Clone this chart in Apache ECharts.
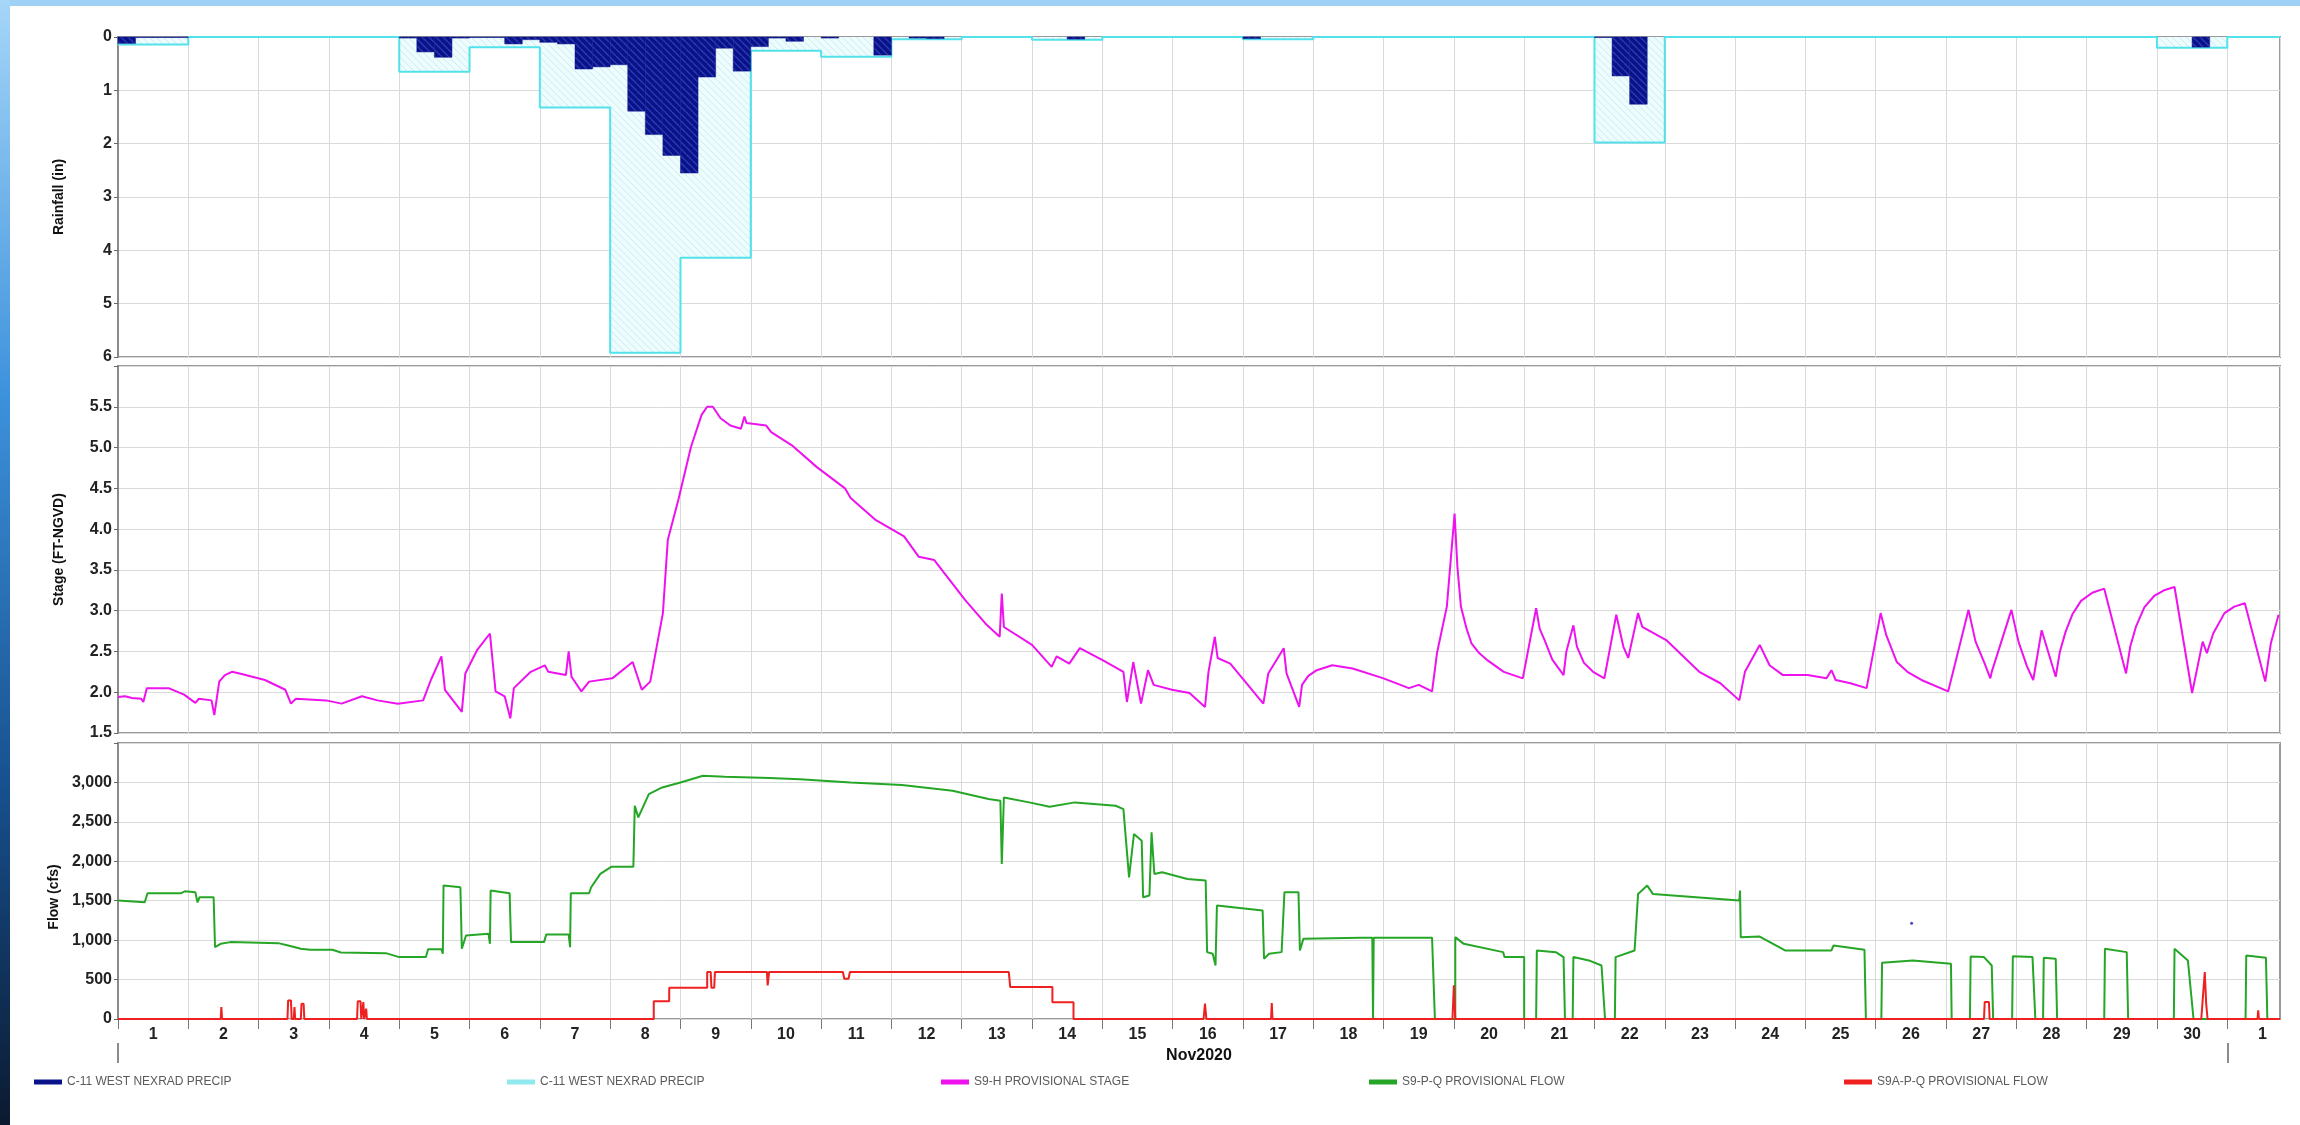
<!DOCTYPE html>
<html><head><meta charset="utf-8">
<script src="https://cdn.jsdelivr.net/npm/echarts@6/dist/echarts.min.js"></script>
<style>html,body{margin:0;padding:0;background:#fff}#c{width:2300px;height:1125px}</style>
</head><body><div id="c"></div>
<script>
// ---------- DATA (x values are days since Nov 1, 2020 00:00) ----------
const dayLabels = ['1','2','3','4','5','6','7','8','9','10','11','12','13','14','15','16','17','18','19','20','21','22','23','24','25','26','27','28','29','30','1'];
const rainTicks = [0,1,2,3,4,5,6];
const stageTicks = [1.5,2.0,2.5,3.0,3.5,4.0,4.5,5.0,5.5];
const flowTicks = [0,500,1000,1500,2000,2500,3000];

// daily NEXRAD totals (in), Nov 1 .. Dec 1
const dailyRain = [0.14,0,0,0,0.65,0.19,1.32,5.92,4.14,0.26,0.37,0.04,0,0.05,0,0,0.04,0,0,0,0,1.98,0,0,0,0,0,0,0,0.2,0];

// 6-hour NEXRAD totals (in): bin start (day) and value
const BIN = 0.25;
const rain6hStart = [0,0.25,0.5,0.75, 4.0,4.25,4.5,4.75, 5.0,5.25,5.5,5.75, 6.0,6.25,6.5,6.75, 7.0,7.25,7.5,7.75, 8.0,8.25,8.5,8.75, 9.0,9.25,9.5, 10.0,10.75, 11.25,11.5, 13.5, 16.0, 21.0,21.25,21.5, 29.5];
const rain6hValue = [0.12,0.01,0.01,0.01, 0.02,0.28,0.38,0.02, 0.01,0.01,0.13,0.05, 0.10,0.13,0.60,0.56, 0.52,1.39,1.83,2.22, 2.55,0.75,0.21,0.64, 0.18,0.02,0.08, 0.02,0.34, 0.02,0.03, 0.04, 0.03, 0.01,0.73,1.26, 0.19];

// S9-H provisional stage (ft NGVD)
const stage = [[0,1.94],[0.1,1.95],[0.2,1.93],[0.33,1.92],[0.36,1.88],[0.41,2.05],[0.72,2.05],[0.94,1.97],[1.1,1.87],[1.15,1.92],[1.33,1.9],[1.37,1.72],[1.44,2.13],[1.52,2.21],[1.62,2.25],[1.73,2.23],[2.09,2.15],[2.38,2.03],[2.46,1.86],[2.53,1.92],[2.96,1.9],[3.18,1.86],[3.47,1.95],[3.69,1.9],[3.98,1.86],[4.34,1.9],[4.45,2.15],[4.6,2.44],[4.65,2.03],[4.89,1.76],[4.94,2.23],[5.11,2.52],[5.29,2.72],[5.37,2.01],[5.5,1.95],[5.58,1.68],[5.63,2.05],[5.87,2.25],[6.07,2.33],[6.12,2.25],[6.37,2.21],[6.41,2.5],[6.45,2.19],[6.59,2.01],[6.7,2.13],[7.03,2.17],[7.32,2.37],[7.45,2.03],[7.57,2.13],[7.75,2.97],[7.82,3.87],[7.97,4.36],[8.15,5.01],[8.3,5.4],[8.38,5.5],[8.46,5.5],[8.57,5.36],[8.71,5.27],[8.86,5.23],[8.91,5.38],[8.94,5.3],[9.22,5.27],[9.29,5.19],[9.58,5.03],[9.94,4.76],[10.34,4.5],[10.42,4.38],[10.78,4.11],[11.18,3.91],[11.39,3.66],[11.61,3.62],[12.05,3.13],[12.34,2.84],[12.54,2.68],[12.57,3.21],[12.6,2.8],[13.0,2.58],[13.28,2.31],[13.35,2.44],[13.53,2.35],[13.68,2.54],[14.01,2.39],[14.3,2.25],[14.35,1.88],[14.44,2.37],[14.55,1.86],[14.65,2.27],[14.73,2.09],[14.99,2.03],[15.24,1.99],[15.46,1.82],[15.51,2.25],[15.6,2.68],[15.64,2.42],[15.82,2.35],[16.29,1.86],[16.36,2.23],[16.58,2.54],[16.62,2.23],[16.8,1.82],[16.84,2.09],[16.93,2.2],[17.05,2.27],[17.27,2.33],[17.56,2.29],[18.0,2.17],[18.36,2.05],[18.5,2.09],[18.69,2.01],[18.76,2.48],[18.9,3.05],[19.01,4.19],[19.05,3.54],[19.1,3.05],[19.18,2.78],[19.25,2.6],[19.36,2.48],[19.48,2.39],[19.71,2.25],[19.98,2.17],[20.17,3.03],[20.22,2.78],[20.29,2.64],[20.4,2.4],[20.56,2.21],[20.6,2.5],[20.7,2.82],[20.75,2.56],[20.85,2.36],[20.98,2.25],[21.14,2.17],[21.31,2.95],[21.41,2.56],[21.48,2.42],[21.62,2.97],[21.68,2.8],[22.02,2.64],[22.49,2.25],[22.79,2.11],[23.06,1.9],[23.14,2.25],[23.35,2.58],[23.49,2.33],[23.68,2.21],[24.03,2.21],[24.3,2.17],[24.37,2.27],[24.43,2.15],[24.64,2.11],[24.87,2.05],[25.07,2.97],[25.15,2.7],[25.3,2.37],[25.45,2.25],[25.65,2.15],[26.03,2.01],[26.32,3.01],[26.42,2.62],[26.55,2.35],[26.63,2.17],[26.65,2.25],[26.93,3.01],[27.03,2.62],[27.15,2.32],[27.24,2.15],[27.36,2.76],[27.56,2.19],[27.62,2.5],[27.7,2.74],[27.8,2.96],[27.92,3.12],[28.08,3.22],[28.25,3.27],[28.56,2.23],[28.62,2.56],[28.7,2.8],[28.82,3.04],[28.96,3.18],[29.1,3.25],[29.25,3.29],[29.5,1.99],[29.65,2.62],[29.71,2.48],[29.8,2.72],[29.96,2.97],[30.1,3.05],[30.25,3.09],[30.54,2.13],[30.62,2.6],[30.73,2.95]];

// S9-P-Q provisional flow (cfs)
const flowS9 = [[0,1502],[0.38,1481],[0.42,1595],[0.9,1595],[0.95,1620],[1.1,1607],[1.13,1480],[1.16,1544],[1.36,1544],[1.38,911],[1.46,954],[1.6,975],[2.28,962],[2.42,932],[2.6,890],[2.73,878],[3.05,878],[3.17,844],[3.81,835],[4.0,785],[4.38,785],[4.41,886],[4.6,886],[4.62,827],[4.63,1692],[4.87,1671],[4.89,890],[4.95,1059],[5.27,1080],[5.29,954],[5.3,1629],[5.57,1595],[5.59,975],[6.06,975],[6.09,1072],[6.41,1072],[6.43,911],[6.44,1595],[6.7,1595],[6.73,1671],[6.86,1840],[7.02,1932],[7.33,1932],[7.35,2704],[7.4,2557],[7.55,2852],[7.74,2936],[8.0,3000],[8.32,3084],[8.63,3071],[9.27,3055],[9.7,3040],[10.42,3000],[11.15,2966],[11.87,2894],[12.38,2789],[12.55,2768],[12.57,1966],[12.6,2810],[12.96,2747],[13.25,2692],[13.61,2747],[14.19,2704],[14.3,2662],[14.38,1797],[14.45,2346],[14.56,2261],[14.58,1544],[14.67,1565],[14.7,2367],[14.74,1840],[14.85,1861],[15.21,1776],[15.47,1755],[15.49,848],[15.57,827],[15.61,679],[15.63,1439],[16.28,1375],[16.3,764],[16.37,827],[16.55,848],[16.59,1607],[16.79,1607],[16.81,869],[16.86,1017],[17.68,1029],[17.84,1029],[17.85,0],[17.86,1029],[18.69,1029],[18.73,0],[19.02,0],[19.02,1038],[19.14,953],[19.7,848],[19.72,785],[20.0,785],[20.0,0],[20.17,0],[20.18,869],[20.45,848],[20.56,785],[20.58,0],[20.69,0],[20.7,785],[20.92,743],[21.1,679],[21.15,0],[21.29,0],[21.3,785],[21.57,869],[21.62,1586],[21.75,1692],[21.83,1586],[23.06,1502],[23.07,1629],[23.08,1038],[23.35,1046],[23.71,869],[24.37,869],[24.4,932],[24.84,878],[24.86,0],[25.08,0],[25.09,713],[25.53,743],[26.07,700],[26.08,0],[26.34,0],[26.35,793],[26.54,785],[26.65,679],[26.67,0],[26.94,0],[26.95,797],[27.23,785],[27.27,0],[27.38,0],[27.39,776],[27.56,764],[27.58,0],[28.25,0],[28.26,890],[28.57,848],[28.59,0],[29.24,0],[29.25,890],[29.44,743],[29.52,0],[30.26,0],[30.27,806],[30.55,776],[30.57,0],[30.75,0]];

// S9A-P-Q provisional flow (cfs)
const flowS9A = [[0,0],[1.46,0],[1.47,152],[1.48,0],[2.41,0],[2.42,236],[2.46,236],[2.47,0],[2.5,0],[2.51,152],[2.52,0],[2.6,0],[2.61,194],[2.64,194],[2.65,0],[3.4,0],[3.41,224],[3.45,224],[3.46,0],[3.48,0],[3.49,215],[3.5,0],[3.52,0],[3.53,131],[3.54,0],[7.62,0],[7.62,224],[7.84,224],[7.84,397],[8.38,397],[8.38,595],[8.43,595],[8.44,397],[8.48,397],[8.49,595],[9.23,595],[9.24,426],[9.26,595],[10.31,595],[10.33,510],[10.39,510],[10.41,595],[12.67,595],[12.69,405],[13.29,405],[13.29,211],[13.59,211],[13.59,0],[15.44,0],[15.46,194],[15.48,0],[16.4,0],[16.41,203],[16.42,0],[18.98,0],[19.0,426],[19.02,0],[26.54,0],[26.55,215],[26.61,215],[26.62,0],[29.63,0],[29.68,595],[29.7,194],[29.72,0],[30.43,0],[30.44,110],[30.45,0],[30.75,0]];

// a stray point in the flow panel
const strayPoint = [[25.51,1215]];

const legendNames = ['C-11 WEST NEXRAD PRECIP','C-11 WEST NEXRAD PRECIP','S9-H PROVISIONAL STAGE','S9-P-Q PROVISIONAL FLOW','S9A-P-Q PROVISIONAL FLOW'];

// ---------- BUILD ----------
const X_MAX = 30.75;
const dailyPts = dailyRain.map((v,i)=>[i,v]);
dailyPts.push([X_MAX, dailyRain[dailyRain.length-1]]);
const rain6h = rain6hStart.map((t,i)=>[t, rain6hValue[i]]);
const labelPos = dayLabels.map((_,i)=>i+0.5);
const tickPos = dayLabels.map((_,i)=>i);

function hatch(bg, fg, s, w){
  const c=document.createElement('canvas'); c.width=c.height=s;
  const g=c.getContext('2d'); g.fillStyle=bg; g.fillRect(0,0,s,s);
  g.strokeStyle=fg; g.lineWidth=w; g.beginPath();
  for(const k of [-s,0,s]){ g.moveTo(k,0); g.lineTo(k+s,s); }
  g.stroke(); return c;
}
const cyanPat = {image: hatch('#eefcfd','#c9eef2',7,1), repeat:'repeat'};
const navyPat = {image: hatch('#0a128a','#2b3cb0',7,1.4), repeat:'repeat'};

const FONT = '"Liberation Sans", Arial, sans-serif';
const C = {navy:'#0a128a', cyan:'#52e2ec', mag:'#ee12ee', green:'#26a626', red:'#ee2020', grid:'#dadada', border:'#9a9a9a'};

const gridBase = {left:118, right:20, show:true, borderColor:C.border, borderWidth:2, backgroundColor:'#fff'};
function xTop(gi){
  return {type:'value', gridIndex:gi, min:0, max:X_MAX, interval:1,
    axisLine:{show:false}, axisTick:{show:false}, axisLabel:{show:false},
    splitLine:{show:true, lineStyle:{color:C.grid, width:1}}};
}
const yLabel = {fontFamily:FONT, fontWeight:'bold', fontSize:16, color:'#222', margin:6};
function yAx(gi, o){
  return Object.assign({type:'value', gridIndex:gi, nameLocation:'middle', nameGap:52,
    nameTextStyle:{fontFamily:FONT, fontWeight:'bold', fontSize:14, color:'#111'},
    axisLine:{show:true, lineStyle:{color:'#8a8a8a', width:2}},
    axisTick:{show:true, length:4, lineStyle:{color:'#666'}},
    splitLine:{show:true, lineStyle:{color:C.grid}}}, o);
}

const legendColors = [C.navy, '#8fe9ef', C.mag, C.green, C.red];
const seriesNames = ['precip6h','precipDaily','stage','flowS9','flowS9A'];
const legendLeft = [29, 502, 936, 1364, 1839];

const option = {
  animation:false,
  backgroundColor:'#fff',
  graphic:[
    {type:'rect', left:0, top:0, shape:{width:2300, height:6}, style:{fill:'#9fd0f5'}, silent:true},
    {type:'rect', left:0, top:0, shape:{width:10, height:1125}, silent:true,
      style:{fill:new echarts.graphic.LinearGradient(0,0,0,1,[{offset:0,color:'#a6d6f8'},{offset:0.35,color:'#3d92dc'},{offset:0.7,color:'#17508e'},{offset:1,color:'#0b1a30'}])}}
  ],
  grid:[
    Object.assign({top:37, height:320}, gridBase),
    Object.assign({top:366, height:367}, gridBase),
    Object.assign({top:743, height:276}, gridBase)
  ],
  xAxis:[
    xTop(0), xTop(1),
    {type:'value', gridIndex:2, min:0, max:X_MAX, interval:1,
      name:'Nov2020', nameLocation:'middle', nameGap:29,
      nameTextStyle:{fontFamily:FONT, fontWeight:'bold', fontSize:16, color:'#111'},
      axisLine:{show:false},
      axisTick:{show:true, length:10, customValues:tickPos, lineStyle:{color:'#777'}},
      axisLabel:{show:true, customValues:labelPos, margin:8, fontFamily:FONT, fontWeight:'bold', fontSize:16, color:'#222',
        formatter:(v)=>dayLabels[Math.floor(v)]},
      splitLine:{show:true, lineStyle:{color:C.grid}}},
    {type:'value', gridIndex:2, min:0, max:X_MAX, position:'bottom', offset:24,
      axisLine:{show:false}, axisLabel:{show:false}, splitLine:{show:false},
      axisTick:{show:true, length:20, customValues:[0,30], lineStyle:{color:'#666', width:1.5}}}
  ],
  yAxis:[
    yAx(0, {min:0, max:6, interval:1, inverse:true, name:'Rainfall (in)',
      axisLabel:Object.assign({customValues:rainTicks}, yLabel)}),
    yAx(1, {min:1.5, max:6, interval:0.5, name:'Stage (FT-NGVD)',
      axisLabel:Object.assign({customValues:stageTicks, formatter:v=>v.toFixed(1)}, yLabel)}),
    yAx(2, {min:0, max:3500, interval:500, name:'Flow (cfs)',
      nameTextStyle:{fontFamily:FONT, fontWeight:'bold', fontSize:14, color:'#111', padding:[0,32,0,0]},
      axisLabel:Object.assign({customValues:flowTicks, formatter:v=>v.toLocaleString('en-US')}, yLabel)})
  ],
  legend: seriesNames.map((n,i)=>({
    data:[{name:n, icon:'rect', itemStyle:{color:legendColors[i]}}],
    left:legendLeft[i], top:1071, itemWidth:28, itemHeight:5, itemGap:5, selectedMode:false,
    formatter:()=>legendNames[i],
    textStyle:{fontFamily:FONT, fontSize:12, color:'#5a5a5a'}
  })),
  series:[
    {name:'precipDaily', type:'line', xAxisIndex:0, yAxisIndex:0, step:'end', data:dailyPts,
      symbol:'none', lineStyle:{color:C.cyan, width:2}, itemStyle:{color:C.cyan},
      areaStyle:{color:cyanPat, opacity:1}, z:2},
    {name:'precip6h', type:'custom', xAxisIndex:0, yAxisIndex:0, data:rain6h, z:3,
      itemStyle:{color:C.navy}, encode:{x:0, y:1},
      renderItem:(params, api)=>{
        const t=api.value(0), v=api.value(1);
        const p0=api.coord([t,0]), p1=api.coord([t+BIN,v]);
        return {type:'rect', shape:{x:p0[0], y:p0[1], width:p1[0]-p0[0], height:p1[1]-p0[1]},
          style:{fill:navyPat, stroke:C.navy, lineWidth:0.5}};
      }},
    {name:'stage', type:'line', xAxisIndex:1, yAxisIndex:1, data:stage, symbol:'none',
      lineStyle:{color:C.mag, width:2}, itemStyle:{color:C.mag}},
    {name:'flowS9', type:'line', xAxisIndex:2, yAxisIndex:2, data:flowS9, symbol:'none',
      lineStyle:{color:C.green, width:2}, itemStyle:{color:C.green}, z:2},
    {name:'flowS9A', type:'line', xAxisIndex:2, yAxisIndex:2, data:flowS9A, symbol:'none',
      lineStyle:{color:C.red, width:2}, itemStyle:{color:C.red}, z:3},
    {name:'stray', type:'scatter', xAxisIndex:2, yAxisIndex:2, data:strayPoint, symbolSize:3,
      itemStyle:{color:'#1a1ab0'}, z:4}
  ]
};
const chart = echarts.init(document.getElementById('c'), null, {renderer:'canvas'});
chart.setOption(option);
</script></body></html>
